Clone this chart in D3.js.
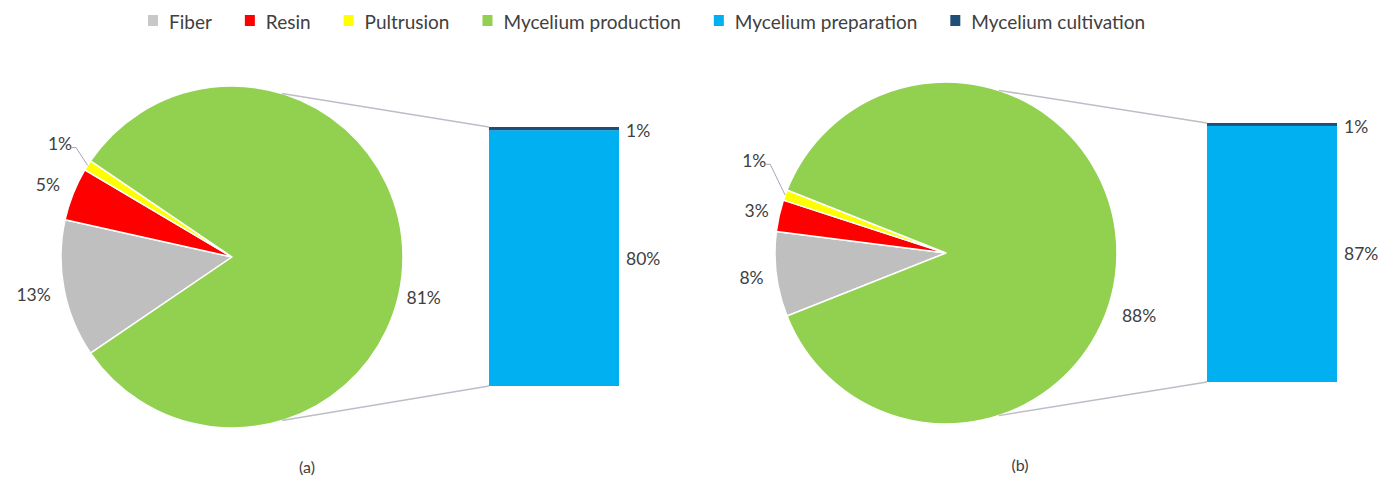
<!DOCTYPE html>
<html>
<head>
<meta charset="utf-8">
<script src="https://cdn.jsdelivr.net/npm/d3@7"></script>
<style>
  html, body { margin: 0; padding: 0; background: #ffffff; }
  svg { display: block; }
  text { font-family: Lato, "Open Sans", "Liberation Sans", sans-serif; fill: #404040; }
</style>
</head>
<body>
<svg id="chart" width="1379" height="477"></svg>
<script>
// Legend / series names
const pieCategories = ["Fiber", "Resin", "Pultrusion", "Mycelium production"];
const barCategories = ["Mycelium preparation", "Mycelium cultivation"];
const legendNames = ["Fiber", "Resin", "Pultrusion", "Mycelium production", "Mycelium preparation", "Mycelium cultivation"];

// Shares (%) for panel (a)
const pieValuesA = [13, 5, 1, 81];
const barValuesA = [80, 1];
// Shares (%) for panel (b)
const pieValuesB = [8, 3, 1, 88];
const barValuesB = [87, 1];

const panelTitles = ["(a)", "(b)"];

// Colours
const pieColors = ["#BFBFBF", "#FF0000", "#FFFF00", "#92D050"];
const barColors = ["#00B0F0", "#1F4E79"];
const legendColors = ["#C8C8C8", "#FF0000", "#FFFF00", "#92D050", "#00B0F0", "#1F4E79"];

// Layout of each panel
const panels = [
  { pie: pieValuesA, bar: barValuesA, title: panelTitles[0],
    cx: 232, cy: 257, r: 171,
    barX: 489, barW: 130, barTop: 127, barBottom: 386,
    labelR: [202, 198, 206, 196], labelNudge: [0, 0, 1, 12], leader: [false, false, true, false],
    connector: 17, titleX: 307, titleY: 466 },
  { pie: pieValuesB, bar: barValuesB, title: panelTitles[1],
    cx: 946, cy: 253, r: 171,
    barX: 1207, barW: 130, barTop: 123, barBottom: 382,
    labelR: [196, 194, 213, 203], labelNudge: [0, 0, 6, 18], leader: [false, false, true, false],
    connector: 18, titleX: 1020, titleY: 464 }
];

const svg = d3.select("#chart");
const deg = Math.PI / 180;
const fmt = v => v + "%";
const labelSize = 17.5;

panels.forEach(p => {
  const total = d3.sum(p.pie);
  const splitAngle = 2 * Math.PI * p.pie[p.pie.length - 1] / total;
  // Split slice is centred on the right-hand side, facing the bar
  const start = Math.PI / 2 + splitAngle / 2;
  const pie = d3.pie().sort(null).startAngle(start).endAngle(start + 2 * Math.PI);
  const arcs = pie(p.pie);
  const arc = d3.arc().innerRadius(0).outerRadius(p.r);

  const g = svg.append("g").attr("transform", `translate(${p.cx},${p.cy})`);

  // Connector lines from the pie to the bar
  const pt = a => [p.cx + p.r * Math.sin(a), p.cy - p.r * Math.cos(a)];
  const top = pt(p.connector * deg), bot = pt((180 - p.connector) * deg);
  svg.append("line").attr("x1", top[0]).attr("y1", top[1]).attr("x2", p.barX).attr("y2", p.barTop)
    .attr("stroke", "#BDBDC8").attr("stroke-width", 1.5);
  svg.append("line").attr("x1", bot[0]).attr("y1", bot[1]).attr("x2", p.barX).attr("y2", p.barBottom)
    .attr("stroke", "#BDBDC8").attr("stroke-width", 1.5);

  g.selectAll("path.slice").data(arcs).join("path")
    .attr("class", "slice")
    .attr("d", arc)
    .attr("fill", (d, i) => pieColors[i])
    .attr("stroke", "#ffffff")
    .attr("stroke-width", 1.5)
    .attr("stroke-linejoin", "round");

  // Slice labels
  arcs.forEach((d, i) => {
    const a = (d.startAngle + d.endAngle) / 2 + p.labelNudge[i] * deg;
    const x = p.labelR[i] * Math.sin(a), y = -p.labelR[i] * Math.cos(a);
    g.append("text").attr("x", x).attr("y", y)
      .attr("text-anchor", "middle").attr("dominant-baseline", "central")
      .attr("font-size", labelSize).text(fmt(d.data));
    if (p.leader[i]) {
      const m = (d.startAngle + d.endAngle) / 2;
      const ex = p.r * Math.sin(m), ey = -p.r * Math.cos(m);
      g.append("polyline")
        .attr("points", `${x + 11},${y + 4} ${x + 16},${y + 4} ${ex},${ey}`)
        .attr("fill", "none").attr("stroke", "#A6A6B8").attr("stroke-width", 1);
    }
  });

  // Stacked bar breaking down the split slice
  const y = d3.scaleLinear().domain([0, d3.sum(p.bar)]).range([p.barBottom, p.barTop]);
  let acc = 0;
  p.bar.forEach((v, i) => {
    const y0 = y(acc), y1 = y(acc + v);
    acc += v;
    svg.append("rect").attr("x", p.barX).attr("y", y1).attr("width", p.barW).attr("height", y0 - y1)
      .attr("fill", barColors[i]);
    svg.append("text").attr("x", p.barX + p.barW + 7).attr("y", (y0 + y1) / 2 + (i === 1 ? 2 : 0))
      .attr("dominant-baseline", "central").attr("font-size", labelSize).text(fmt(v));
  });

  svg.append("text").attr("x", p.titleX).attr("y", p.titleY)
    .attr("text-anchor", "middle").attr("dominant-baseline", "central")
    .attr("font-size", 16).text(p.title);
});

// Legend
const legend = svg.append("g");
let lx = 148;
legendNames.forEach((name, i) => {
  legend.append("rect").attr("x", lx).attr("y", 15).attr("width", 10).attr("height", 11)
    .attr("fill", legendColors[i]);
  const t = legend.append("text").attr("x", lx + 21).attr("y", 21)
    .attr("dominant-baseline", "central").attr("font-size", 19).text(name);
  lx += 21 + t.node().getComputedTextLength() + 33;
});
</script>
</body>
</html>
